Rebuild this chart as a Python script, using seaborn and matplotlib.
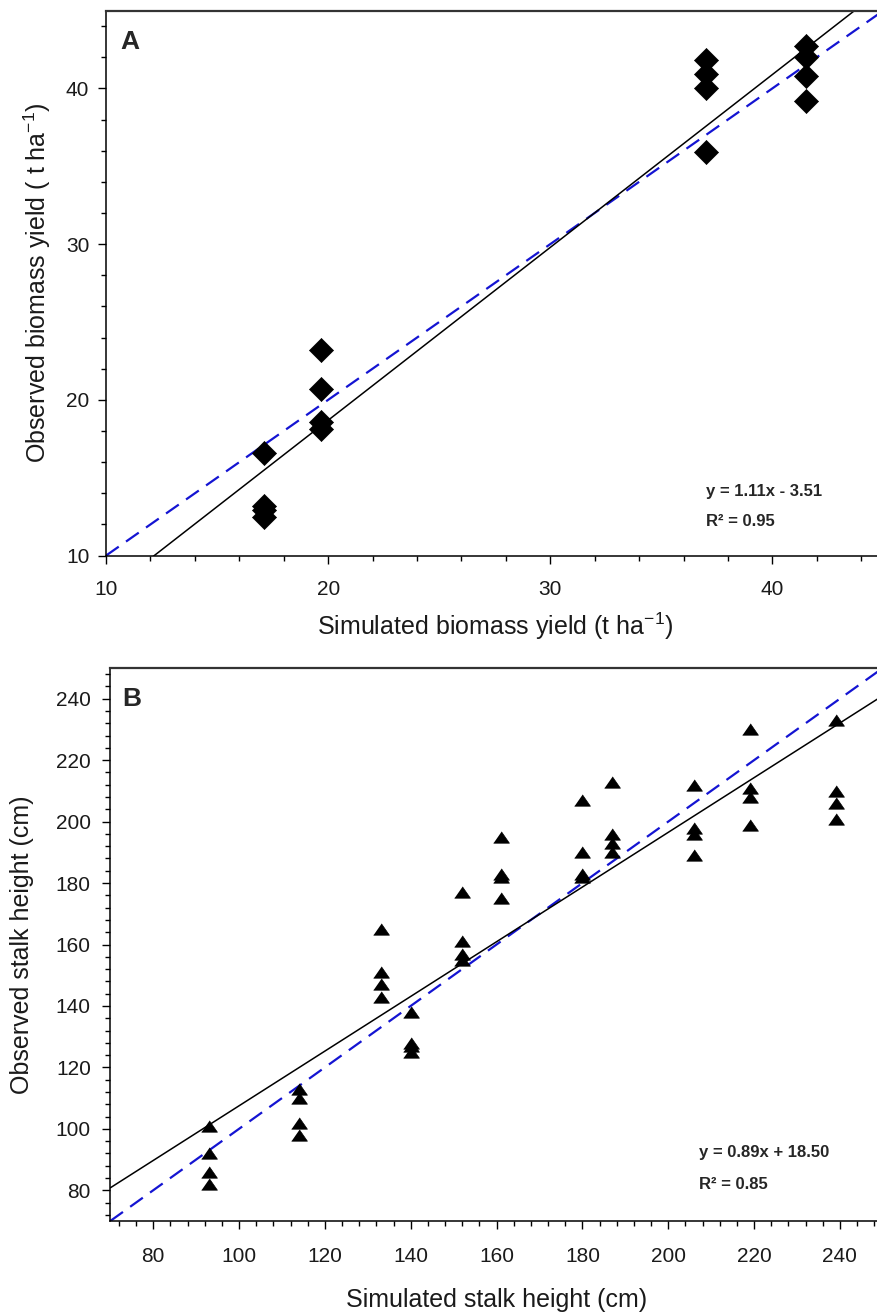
import numpy as np
import pandas as pd
import matplotlib
matplotlib.use("Agg")
import matplotlib.pyplot as plt
import seaborn as sns
from matplotlib.ticker import MultipleLocator

sns.set_theme(style="ticks")
plt.rcParams["font.family"] = ["Liberation Sans", "DejaVu Sans"]
plt.rcParams["mathtext.fontset"] = "custom"
plt.rcParams["mathtext.rm"] = "Liberation Sans"

# ---------------- Data ----------------
# Panel A: biomass yield (t ha-1)
sim_biomass = [17.1, 17.1, 17.1, 17.1,
               19.7, 19.7, 19.7, 19.7,
               37.0, 37.0, 37.0, 37.0,
               41.5, 41.5, 41.5, 41.5]
obs_biomass = [16.6, 13.2, 12.9, 12.5,
               23.2, 20.7, 18.6, 18.1,
               41.8, 40.9, 40.0, 35.9,
               42.7, 42.0, 40.8, 39.2]
fit_a = (1.11, -3.51)
r2_a = 0.95

# Panel B: stalk height (cm)
sim_height = [93, 93, 93, 93,
              114, 114, 114, 114,
              133, 133, 133, 133,
              140, 140, 140, 140,
              152, 152, 152, 152,
              161, 161, 161, 161,
              180, 180, 180, 180,
              187, 187, 187, 187,
              206, 206, 206, 206,
              219, 219, 219, 219,
              239, 239, 239, 239]
obs_height = [101, 92, 86, 82,
              113, 110, 102, 98,
              165, 151, 147, 143,
              138, 128, 127, 125,
              177, 161, 157, 155,
              195, 183, 182, 175,
              207, 190, 183, 182,
              213, 196, 193, 190,
              212, 198, 196, 189,
              230, 211, 208, 199,
              233, 210, 206, 201]
fit_b = (0.89, 18.50)
r2_b = 0.85

df_a = pd.DataFrame({"sim": sim_biomass, "obs": obs_biomass})
df_b = pd.DataFrame({"sim": sim_height, "obs": obs_height})

W, H = 878, 1315
fig = plt.figure(figsize=(W / 100, H / 100), dpi=100)

BLUE = "#1414d2"
tri = [(-1.0, -0.72), (1.0, -0.72), (0.0, 0.72)]


def style_axes(ax, xlim, ylim, major, minor, xpad, ypad):
    ax.set_xlim(*xlim)
    ax.set_ylim(*ylim)
    ax.xaxis.set_major_locator(MultipleLocator(major))
    ax.yaxis.set_major_locator(MultipleLocator(major))
    ax.xaxis.set_minor_locator(MultipleLocator(minor))
    ax.yaxis.set_minor_locator(MultipleLocator(minor))
    ax.tick_params(which="major", direction="out", length=6, width=1.0,
                   labelsize=15, color="black", labelcolor="#1a1a1a")
    ax.tick_params(axis="x", which="major", pad=xpad)
    ax.tick_params(axis="y", which="major", pad=ypad)
    ax.tick_params(which="minor", direction="out", length=3.4, width=1.0, color="black")
    for s in ["left", "bottom"]:
        ax.spines[s].set_color("black")
        ax.spines[s].set_linewidth(1.1)
    ax.spines["top"].set_color("#333333")
    ax.spines["top"].set_linewidth(1.6)
    ax.spines["right"].set_visible(False)
    ax.set_facecolor("white")


# ---------------- Panel A ----------------
axA = fig.add_axes([106 / W, 1 - 555.6 / H, 777.5 / W, 545.1 / H])
xlimA, ylimA = (10, 45), (10, 45)
style_axes(axA, xlimA, ylimA, 10, 2, xpad=11.5, ypad=6)
xs = np.array(xlimA, dtype=float)
axA.plot(xs, xs, color=BLUE, lw=1.6, dashes=(7, 4), zorder=2)
axA.plot(xs, fit_a[0] * xs + fit_a[1], color="black", lw=1.1, zorder=2)
sns.scatterplot(data=df_a, x="sim", y="obs", ax=axA, marker="D", s=150,
                color="black", edgecolor="black", linewidth=0.5, zorder=3,
                legend=False, clip_on=False)
axA.set_xlim(*xlimA)
axA.set_ylim(*ylimA)
axA.set_xlabel("Simulated biomass yield (t ha$^{\\mathregular{-1}}$)", fontsize=18, color="#1a1a1a")
axA.set_ylabel("Observed biomass yield ( t ha$^{\\mathregular{-1}}$)", fontsize=18, color="#1a1a1a")
axA.xaxis.set_label_coords(0.5, -0.1)
axA.yaxis.set_label_coords(-0.068, 0.5)
axA.text(0.018, 0.965, "A", transform=axA.transAxes, fontsize=19,
         fontweight="bold", va="top", ha="left")
axA.text(0.772, 0.109, f"y = {fit_a[0]:.2f}x - {abs(fit_a[1]):.2f}",
         transform=axA.transAxes, fontsize=12, fontweight="bold", ha="left", va="baseline")
axA.text(0.772, 0.054, f"R² = {r2_a:.2f}", transform=axA.transAxes,
         fontsize=12, fontweight="bold", ha="left", va="baseline")

# ---------------- Panel B ----------------
axB = fig.add_axes([110.3 / W, 1 - 1221 / H, 772.5 / W, 553 / H])
xlimB, ylimB = (70, 250), (70, 250)
style_axes(axB, xlimB, ylimB, 20, 4, xpad=12.5, ypad=8)
xs = np.array(xlimB, dtype=float)
axB.plot(xs, xs, color=BLUE, lw=1.6, dashes=(7, 4), zorder=2)
axB.plot(xs, fit_b[0] * xs + fit_b[1], color="black", lw=1.1, zorder=2)
sns.scatterplot(data=df_b, x="sim", y="obs", ax=axB, marker=tri, s=130,
                color="black", edgecolor="black", linewidth=0.5, zorder=3,
                legend=False)
axB.set_xlim(*xlimB)
axB.set_ylim(*ylimB)
axB.set_xlabel("Simulated stalk height (cm)", fontsize=18, color="#1a1a1a")
axB.set_ylabel("Observed stalk height (cm)", fontsize=18, color="#1a1a1a")
axB.xaxis.set_label_coords(0.5, -0.122)
axB.yaxis.set_label_coords(-0.099, 0.5)
axB.text(0.015, 0.965, "B", transform=axB.transAxes, fontsize=19,
         fontweight="bold", va="top", ha="left")
axB.text(0.762, 0.115, f"y = {fit_b[0]:.2f}x + {fit_b[1]:.2f}",
         transform=axB.transAxes, fontsize=12, fontweight="bold", ha="left", va="baseline")
axB.text(0.762, 0.058, f"R² = {r2_b:.2f}", transform=axB.transAxes,
         fontsize=12, fontweight="bold", ha="left", va="baseline")

fig.patch.set_facecolor("white")
fig.savefig("out.png", dpi=100, facecolor="white")
